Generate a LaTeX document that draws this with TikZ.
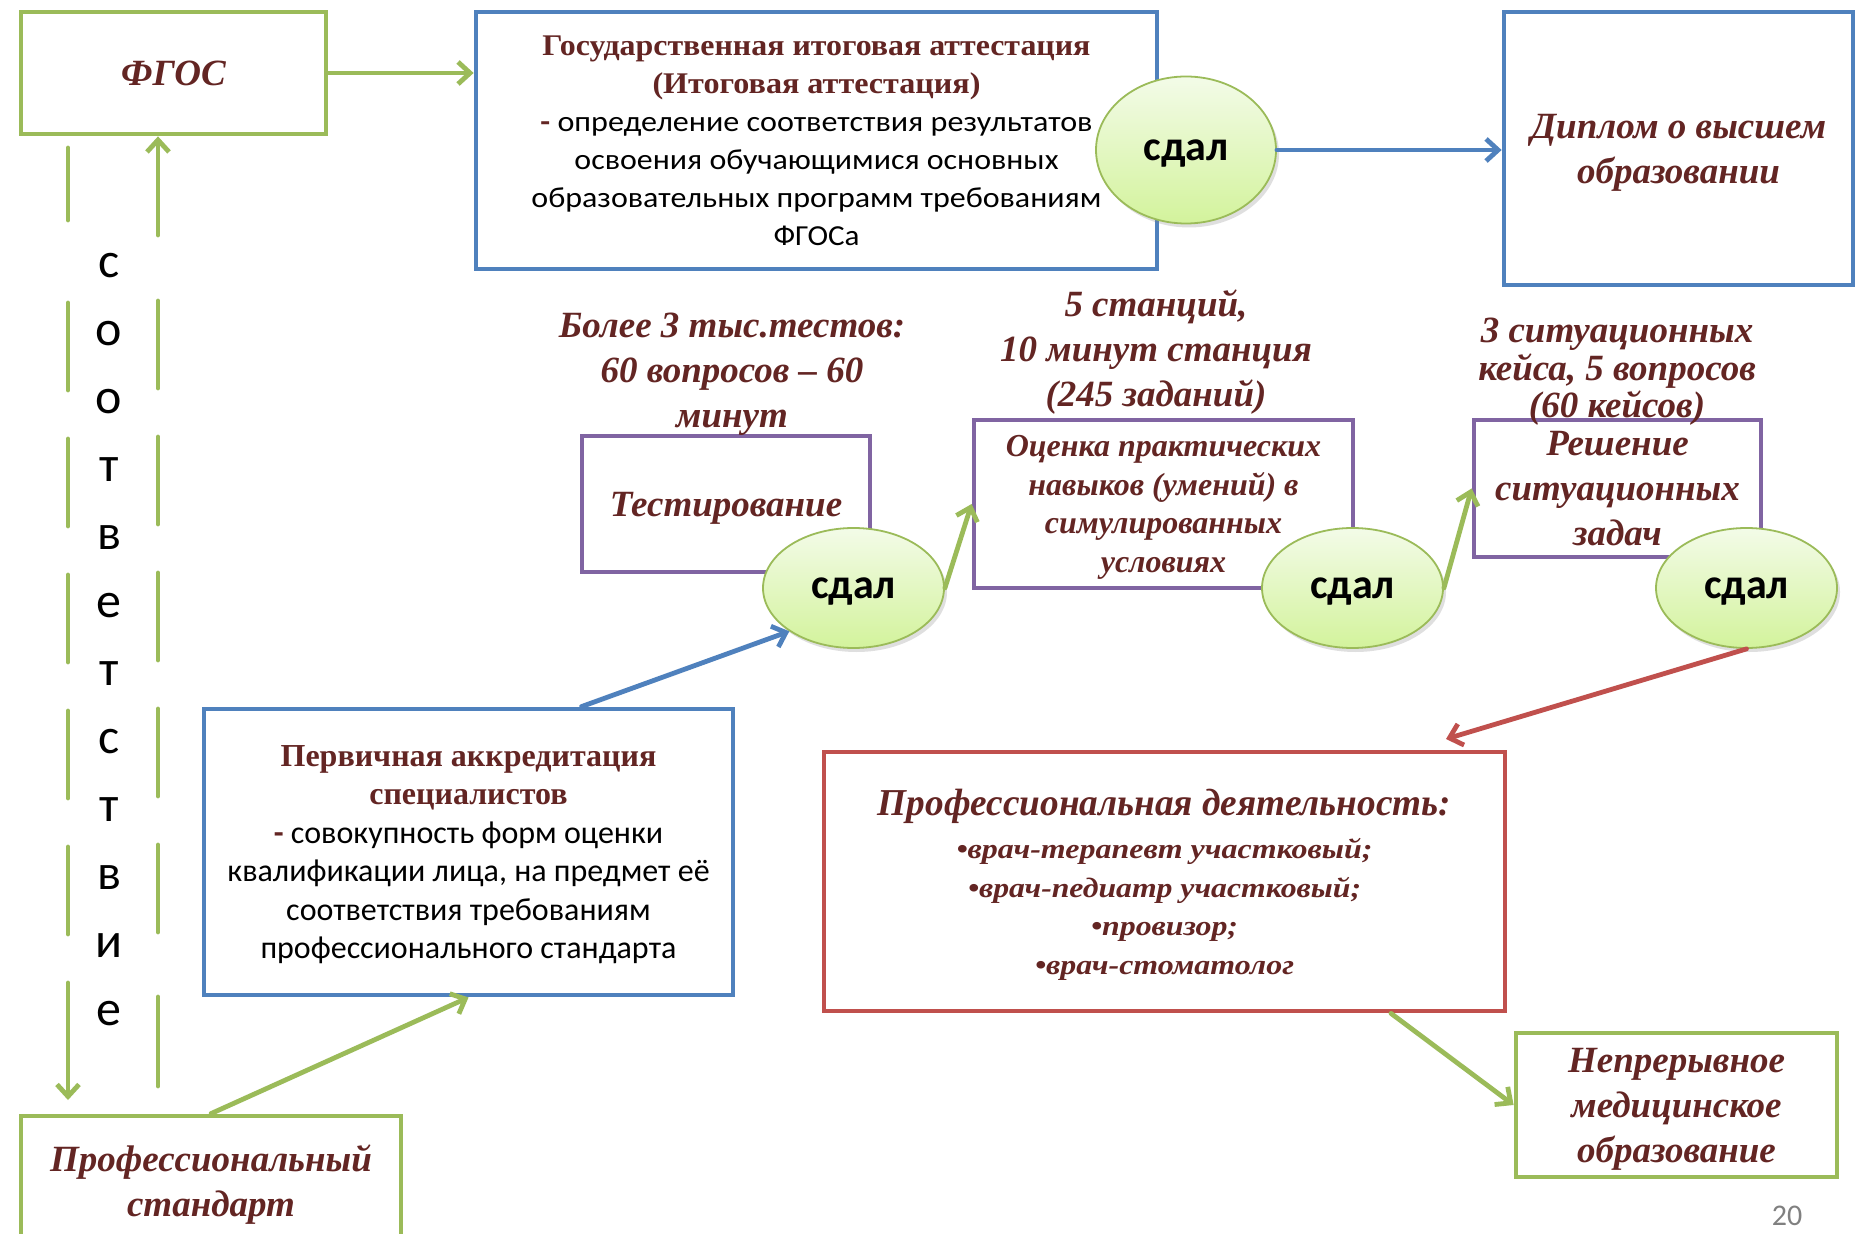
\documentclass[tikz,border=0pt]{standalone}
\usepackage{fontspec}
\usepackage{graphicx}
\setmainfont{Liberation Serif}
\newfontfamily\calib{Carlito}
\usetikzlibrary{arrows.meta,shapes.geometric,calc,shadows}
\definecolor{gr}{HTML}{9BBB59}
\definecolor{bl}{HTML}{4F81BD}
\definecolor{pu}{HTML}{8064A2}
\definecolor{rd}{HTML}{C0504D}
\definecolor{drk}{HTML}{632523}
\definecolor{elltop}{HTML}{F3FBE8}
\definecolor{ellbot}{HTML}{D3F39C}
\begin{document}
\begin{tikzpicture}[x=0.5pt,y=-0.5pt,
  box/.style={draw, line width=2.4pt, inner sep=0pt, align=center, text=drk, text depth=0pt},
  bigit/.style={font=\bfseries\itshape\fontsize{18.5}{22.5}\selectfont},
  freelbl/.style={align=center, text=drk, inner sep=0pt, text depth=0pt},
  pass/.style={ellipse, draw=gr, line width=0.9pt, inner sep=0pt, top color=elltop, bottom color=ellbot,
    font=\calib\bfseries\fontsize{21}{24}\selectfont, text=black, text depth=0pt,
    drop shadow={opacity=0.25, shadow xshift=1.5pt, shadow yshift=-2pt}},
  arr/.style={line width=2.4pt, line cap=round, line join=round, -{Straight Barb[length=6pt,width=11pt]}},
]
\useasboundingbox (0,0) rectangle (1861,1234);
\fill[white] (0,0) rectangle (1861,1234);

% boxes
\node[box, draw=gr, minimum width=152.5pt, minimum height=61pt, bigit] (fgos) at (173.5,73) {ФГОС};

\node[box, draw=bl, minimum width=340.5pt, minimum height=128.5pt, font=\fontsize{15}{19}\selectfont] (gia) at (816.5,140.5) {%
\resizebox{274pt}{\height}{\bfseries Государственная итоговая аттестация}\\
\resizebox{164pt}{\height}{\bfseries (Итоговая аттестация)}\\
\resizebox{276pt}{\height}{\calib\fontsize{14.5}{19}\selectfont\textcolor{drk}{\bfseries -} \textcolor{black}{определение соответствия результатов}}\\
\resizebox{242pt}{\height}{\calib\fontsize{14.5}{19}\selectfont\color{black}освоения обучающимися основных}\\
\resizebox{285pt}{\height}{\calib\fontsize{14.5}{19}\selectfont\color{black}образовательных программ требованиям}\\
\resizebox{43pt}{\height}{\calib\fontsize{14.5}{19}\selectfont\color{black}ФГОСа}};

\node[box, draw=bl, minimum width=174.5pt, minimum height=136.5pt, bigit] (diplom) at (1678.5,148.5) {Диплом о высшем\\образовании};

\node[box, draw=pu, minimum width=144pt, minimum height=68pt, bigit] (test) at (726,504) {Тестирование};

\node[box, draw=pu, minimum width=189.5pt, minimum height=84pt, font=\bfseries\itshape\fontsize{16}{19.3}\selectfont] (ocenka) at (1163.5,504) {Оценка практических\\навыков (умений) в\\симулированных\\условиях};

\node[box, draw=pu, minimum width=143.5pt, minimum height=68.5pt, bigit] (resh) at (1617.5,488.5) {Решение\\ситуационных\\задач};

\node[box, draw=rd, minimum width=340.5pt, minimum height=129.5pt, font=\bfseries\itshape\fontsize{14}{19.25}\selectfont] (prof) at (1164.5,881.5) {%
\resizebox{286.5pt}{\height}{\fontsize{19}{21}\selectfont Профессиональная деятельность:}\\[2.5pt]
\resizebox{208pt}{\height}{•врач-терапевт участковый;}\\
\resizebox{196.5pt}{\height}{•врач-педиатр участковый;}\\
\resizebox{73.5pt}{\height}{•провизор;}\\
\resizebox{129.5pt}{\height}{•врач-стоматолог}};

\node[box, draw=gr, minimum width=160.5pt, minimum height=72pt, bigit] (nmo) at (1676.5,1105) {Непрерывное\\медицинское\\образование};

\node[box, draw=bl, minimum width=264.5pt, minimum height=143pt, font=\fontsize{16}{19.2}\selectfont] (perv) at (468.5,852) {%
{\bfseries\fontsize{16}{19.2}\selectfont Первичная аккредитация}\\
{\bfseries\fontsize{16}{19.2}\selectfont специалистов}\\
{\calib\textcolor{drk}{\bfseries -} \color{black}совокупность форм оценки}\\
{\calib\color{black}квалификации лица, на предмет её}\\
{\calib\color{black}соответствия требованиям}\\
{\calib\color{black}профессионального стандарта}};

\node[box, draw=gr, minimum width=190pt, minimum height=64.5pt, bigit] (profstd) at (211,1180.5) {Профессиональный\\стандарт};

% free labels
\node[freelbl, bigit] (more3) at (732,370) {Более 3 тыс.тестов:\\60 вопросов – 60\\минут};
\node[freelbl, bigit] (st5) at (1156,348) {5 станций,\\10 минут станция\\(245 заданий)};
\node[freelbl, font=\bfseries\itshape\fontsize{18.5}{18.8}\selectfont] (sit3) at (1617,368) {3 ситуационных\\кейса, 5 вопросов\\(60 кейсов)};

\node[freelbl, text=black, font=\calib\fontsize{25}{34}\selectfont] (sootv) at (109,639) {с\\о\\о\\т\\в\\е\\т\\с\\т\\в\\и\\е};

\node[text=gray, font=\calib\fontsize{15}{17}\selectfont, inner sep=0pt] (pg) at (1787,1216) {20};

% passed ellipses
\node[pass, minimum width=90pt, minimum height=73.5pt] (s1) at (1186,150) {сдал};
\node[pass, minimum width=90.5pt, minimum height=60pt] (s2) at (853.5,588) {сдал};
\node[pass, minimum width=90.5pt, minimum height=60pt] (s3) at (1352.5,588) {сдал};
\node[pass, minimum width=90.5pt, minimum height=60pt] (s4) at (1746.5,588) {сдал};

% coordinates for free ends
\coordinate (la) at (68,148);
\coordinate (lb) at (68,1100);
\coordinate (ra) at (158,1086);
\coordinate (redend) at (1446,739);

% connectors
\draw[arr, gr] (fgos.east) -- (fgos.east -| gia.west);
\draw[arr, bl] (s1.east) -- (s1.east -| diplom.west);
\draw[arr, gr, dash pattern=on 36pt off 41.5pt on 43.5pt off 24.5pt on 43.5pt off 24.5pt on 43.5pt off 24.5pt on 43.5pt off 24.5pt on 43.5pt off 24.5pt on 80pt off 1pt] (la) -- (lb);
\draw[arr, gr, dash pattern=on 44.5pt off 32.5pt on 43.5pt off 24.5pt on 43.5pt off 24.5pt on 43.5pt off 24.5pt on 43.5pt off 24.5pt on 43.5pt off 33pt on 80pt off 1pt] (ra) -- (ra |- fgos.south);
\draw[arr, bl] ($(perv.north)+(113,0)$) -- (s2.214);
\draw[arr, gr] (s2.east) -- (ocenka.west);
\draw[arr, gr] (s3.east) -- (resh.west);
\draw[arr, rd] (s4.south) -- (redend);
\draw[arr, gr] ($(prof.south)+(226.5,0)$) -- (nmo.west);
\draw[arr, gr] (profstd.north) -- (perv.south);
\end{tikzpicture}
\end{document}
